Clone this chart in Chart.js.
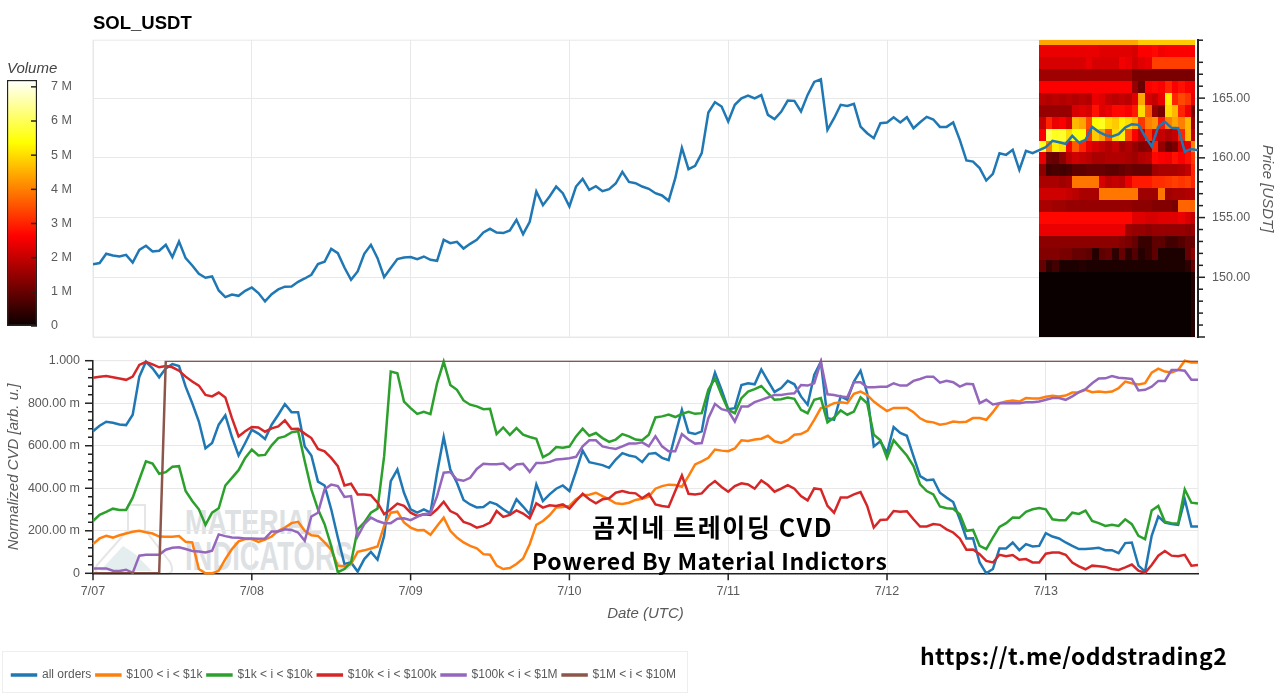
<!DOCTYPE html>
<html lang="en">
<head>
    <meta charset="UTF-8">
    <title>SOL_USDT CVD</title>
    <style>
        html, body {
            margin: 0;
            padding: 0;
            background-color: #fff;
            overflow: hidden;
        }

        canvas, svg, .note, #legendBox {
            position: absolute;
        }

        #colorbarChart { left: 0; top: 55px; }
        #priceChart { left: 0; top: 0; }
        #cvdChart { left: 0; top: 345px; }

        #legendBox {
            left: 2px;
            top: 651px;
            width: 684px;
            height: 40px;
            border: 1px solid #eee;
        }

        .note {
            color: #000;
            white-space: nowrap;
            font-family: "Noto Sans CJK KR", "Noto Sans", sans-serif;
            font-weight: 700;
        }
    </style>
</head>
<body>
    <svg width="1280" height="693">
        <path d="M128 505 L128 530 L97 565 Q92 574 104 574 L165 574 Q176 574 170 562 L145 530 L145 505 Z" fill="none" stroke="#e6e6e6" stroke-width="2"/>
        <path d="M100 571 L123 546 L135 554 L152 571 Z" fill="#e4eeee"/>
        <g fill="#dde1e4" font-family="Liberation Sans" font-weight="bold">
            <text x="185" y="534" font-size="35" textLength="137" lengthAdjust="spacingAndGlyphs">MATERIAL</text>
            <text x="185" y="570" font-size="41" textLength="168" lengthAdjust="spacingAndGlyphs">INDICATORS</text>
        </g>
    </svg>
    <div id="legendBox"></div>
    <canvas id="colorbarChart" width="90" height="285"></canvas>
    <canvas id="priceChart" width="1280" height="345"></canvas>
    <canvas id="cvdChart" width="1280" height="348"></canvas>
    <div class="note" style="left:592px;top:508px;font-size:25px;letter-spacing:1.6px">곰지네 트레이딩 CVD</div>
    <div class="note" style="left:532px;top:543px;font-size:23px;letter-spacing:0.6px">Powered By Material Indictors</div>
    <div class="note" style="left:920px;top:638px;font-size:23px;letter-spacing:0.4px">https://t.me/oddstrading2</div>

    <script src="https://cdn.jsdelivr.net/npm/chart.js@4/dist/chart.umd.js"></script>
    <script>
        // hourly samples, hour 0 = 7/07 00:00 UTC
        const dayLabels = ['7/07', '7/08', '7/09', '7/10', '7/11', '7/12', '7/13'];
        const seriesNames = ['all orders', '$100 < i < $1k', '$1k < i < $10k', '$10k < i < $100k', '$100k < i < $1M', '$1M < i < $10M'];
        const seriesColors = ['#1f77b4', '#ff7f0e', '#2ca02c', '#d62728', '#9467bd', '#8c564b'];

        const priceUsdt = [
            151.10,151.19,151.97,151.83,151.74,151.88,151.24,152.30,152.64,152.16,
            152.22,152.72,151.69,153.00,151.60,150.99,150.29,149.96,150.07,148.90,
            148.34,148.56,148.45,148.87,149.15,148.68,147.98,148.59,148.98,149.21,
            149.23,149.62,149.90,150.21,151.10,151.30,152.38,152.02,150.82,149.79,
            150.49,151.97,152.72,151.60,150.01,150.77,151.52,151.66,151.69,151.52,
            151.74,151.46,151.38,153.14,152.86,152.97,152.41,152.80,153.14,153.75,
            154.06,153.75,153.70,153.92,154.81,153.61,154.64,157.18,156.04,156.76,
            157.60,157.04,155.93,157.60,158.24,157.32,157.63,157.21,157.38,157.85,
            158.83,157.99,157.88,157.60,157.41,157.04,156.85,156.40,158.30,160.84,
            159.05,159.33,160.39,163.79,164.66,164.30,163.04,164.44,164.99,165.22,
            164.97,165.25,163.60,163.24,163.85,164.80,164.77,163.88,165.27,166.36,
            166.58,162.34,163.32,164.44,164.35,164.52,162.62,162.06,161.65,162.90,
            162.96,163.40,162.96,163.40,162.48,162.98,163.43,163.21,162.59,162.59,
            162.96,161.51,159.78,159.69,159.14,158.10,158.66,160.39,160.25,160.67,
            159.00,160.59,160.39,160.64,160.89,161.42,161.31,161.17,161.84,161.28,
            161.51,162.59,162.18,161.90,161.79,161.98,162.54,162.82,162.76,161.79,
            160.95,162.62,163.01,162.51,162.48,160.53,160.73,160.64
        ];

        const cvdAllOrders = [
            .668,.694,.713,.708,.700,.697,.746,.925,.995,.964,
            .922,.964,.984,.975,.878,.800,.714,.588,.613,.699,
            .743,.641,.554,.613,.675,.657,.632,.699,.746,.796,
            .758,.758,.597,.554,.431,.413,.301,.168,.044,.051,
            .008,.067,.101,.064,.176,.434,.488,.379,.301,.285,
            .301,.285,.473,.641,.488,.426,.345,.324,.310,.312,
            .335,.324,.301,.281,.348,.314,.278,.418,.340,.371,
            .398,.413,.387,.480,.577,.523,.516,.509,.496,.535,
            .565,.554,.548,.523,.562,.566,.543,.532,.652,.769,
            .663,.655,.668,.839,.944,.863,.772,.777,.886,.894,
            .889,.959,.905,.853,.871,.905,.889,.832,.793,.933,
            .995,.730,.722,.832,.816,.902,.953,.847,.597,.621,
            .566,.688,.660,.647,.551,.457,.438,.441,.379,.356,
            .335,.254,.164,.165,.051,.000,.020,.117,.117,.145,
            .109,.137,.126,.129,.189,.173,.164,.145,.129,.114,
            .114,.117,.120,.109,.109,.095,.142,.145,.036,.008,
            .176,.267,.239,.232,.228,.348,.220,.220
        ];

        const cvd100To1k = [
            .137,.164,.176,.168,.179,.187,.195,.200,.193,.187,
            .173,.172,.172,.175,.148,.145,.020,.000,.000,.012,
            .067,.114,.150,.161,.161,.148,.158,.173,.200,.215,
            .236,.242,.200,.179,.176,.145,.111,.036,.033,.044,
            .101,.108,.117,.126,.223,.285,.290,.239,.215,.203,
            .204,.181,.223,.262,.200,.168,.145,.129,.117,.090,
            .087,.036,.020,.025,.044,.070,.137,.228,.246,.273,
            .310,.312,.317,.348,.368,.370,.379,.363,.348,.329,
            .326,.332,.345,.351,.360,.398,.410,.417,.415,.407,
            .457,.512,.527,.543,.582,.577,.574,.587,.626,.622,
            .629,.633,.647,.621,.613,.626,.652,.655,.671,.722,
            .777,.785,.800,.805,.800,.844,.855,.839,.808,.785,
            .763,.778,.777,.778,.758,.729,.714,.710,.699,.704,
            .714,.711,.713,.730,.730,.722,.758,.800,.808,.813,
            .808,.824,.822,.822,.830,.835,.832,.836,.850,.852,
            .863,.852,.855,.852,.855,.871,.902,.894,.888,.894,
            .944,.963,.949,.945,.956,1.00,.992,.992
        ];

        const cvd1kTo10k = [
            .246,.275,.289,.304,.298,.298,.356,.441,.527,.516,
            .468,.476,.501,.504,.387,.340,.301,.228,.285,.306,
            .413,.449,.485,.543,.582,.554,.557,.602,.636,.644,
            .663,.668,.527,.395,.301,.231,.129,.005,.020,.051,
            .207,.239,.285,.304,.551,.949,.941,.808,.777,.750,
            .760,.749,.894,.995,.886,.863,.813,.793,.785,.772,
            .774,.655,.686,.651,.683,.652,.641,.633,.546,.563,
            .594,.591,.596,.644,.680,.647,.660,.636,.618,.629,
            .655,.644,.629,.626,.652,.733,.738,.747,.735,.750,
            .760,.750,.753,.863,.917,.839,.769,.753,.824,.855,
            .866,.881,.847,.816,.819,.827,.821,.769,.753,.816,
            .824,.710,.733,.766,.746,.761,.828,.800,.652,.626,
            .543,.626,.590,.554,.504,.418,.387,.371,.314,.306,
            .304,.278,.200,.204,.129,.114,.168,.218,.236,.262,
            .261,.289,.301,.307,.301,.254,.250,.250,.285,.279,
            .295,.246,.236,.223,.228,.223,.254,.231,.176,.161,
            .295,.317,.242,.236,.234,.395,.332,.328
        ];

        const cvd10kTo100k = [
            .920,.925,.928,.922,.916,.910,.925,.980,.995,.983,
            .969,.975,.969,.953,.925,.902,.883,.839,.832,.850,
            .827,.730,.644,.668,.688,.686,.666,.682,.691,.719,
            .679,.680,.657,.636,.585,.574,.543,.504,.413,.421,
            .371,.371,.367,.332,.278,.301,.328,.317,.285,.270,
            .278,.275,.301,.337,.293,.278,.242,.231,.215,.223,
            .239,.293,.265,.275,.296,.281,.259,.329,.309,.320,
            .317,.324,.304,.340,.374,.348,.329,.348,.353,.379,
            .387,.379,.376,.353,.374,.324,.317,.312,.387,.460,
            .374,.371,.376,.410,.434,.406,.384,.410,.423,.418,
            .398,.437,.415,.384,.398,.415,.398,.363,.343,.399,
            .395,.317,.285,.356,.356,.371,.382,.317,.215,.251,
            .253,.293,.290,.292,.254,.220,.220,.232,.228,.207,
            .192,.164,.111,.112,.090,.058,.051,.087,.080,.086,
            .064,.067,.051,.051,.092,.098,.098,.087,.051,.033,
            .019,.036,.033,.030,.020,.016,.028,.041,.012,.002,
            .039,.083,.105,.083,.080,.087,.036,.039
        ];

        const cvd100kTo1M = [
            .023,.023,.023,.012,.011,.017,.002,.083,.087,.087,
            .087,.111,.120,.122,.114,.105,.103,.098,.106,.183,
            .175,.168,.167,.164,.164,.162,.164,.197,.197,.207,
            .204,.192,.153,.267,.285,.395,.417,.410,.359,.363,
            .173,.231,.262,.246,.236,.236,.257,.259,.250,.265,
            .278,.282,.363,.473,.476,.441,.435,.449,.491,.515,
            .513,.513,.516,.488,.512,.515,.477,.519,.519,.524,
            .535,.538,.541,.548,.597,.626,.626,.597,.590,.585,
            .597,.610,.610,.616,.597,.644,.597,.574,.574,.655,
            .629,.610,.613,.730,.797,.772,.764,.714,.785,.785,
            .805,.816,.827,.839,.839,.844,.847,.886,.883,.894,
            .995,.842,.839,.832,.828,.899,.899,.875,.875,.878,
            .878,.894,.883,.883,.905,.914,.925,.925,.897,.905,
            .899,.878,.891,.889,.800,.816,.794,.800,.800,.800,
            .800,.805,.805,.808,.816,.824,.824,.816,.832,.852,
            .866,.894,.916,.917,.928,.920,.917,.914,.860,.863,
            .878,.905,.905,.956,.956,.953,.910,.910
        ];

        const cvd1MTo10M = [
            0,0,0,0,0,0,0,0,0,0,
            0,1,1,1,1,1,1,1,1,1,
            1,1,1,1,1,1,1,1,1,1,
            1,1,1,1,1,1,1,1,1,1,
            1,1,1,1,1,1,1,1,1,1,
            1,1,1,1,1,1,1,1,1,1,
            1,1,1,1,1,1,1,1,1,1,
            1,1,1,1,1,1,1,1,1,1,
            1,1,1,1,1,1,1,1,1,1,
            1,1,1,1,1,1,1,1,1,1,
            1,1,1,1,1,1,1,1,1,1,
            1,1,1,1,1,1,1,1,1,1,
            1,1,1,1,1,1,1,1,1,1,
            1,1,1,1,1,1,1,1,1,1,
            1,1,1,1,1,1,1,1,1,1,
            1,1,1,1,1,1,1,1,1,1,
            1,1,1,1,1,1,1,1
        ];

        // order book heatmap: volume in millions per price bin (rows) and hour (columns)
        const heatHours = [143,144,145,146,147,148,149,150,151,152,153,154,155,156,157,158,159,160,161,162,163,164,165,166,166.6];
        const heatPrices = [169.85,169.45,168.45,167.45,166.45,165.45,164.45,163.45,162.45,161.45,160.45,159.45,158.45,157.45,156.45,155.45,154.45,153.45,152.45,151.45,150.45,145];
        const heatVolume = [
            [4.4,4.4,4.4,4.4,4.4,4.4,4.4,4.4,4.4,4.4,4.4,4.4,4.4,4.4,4.4,4.8,4.8,4.8,4.8,4.8,4.8,4.8,4.8,4.8],
            [2.4,2.4,2.4,2.4,2.4,2.4,2.4,2.4,2.4,2.3,2.3,2.3,2.3,2.3,2.2,2.6,2.6,2.7,2.5,2.6,2.6,2.6,2.6,2.6],
            [2.2,2.2,2.2,2.2,2.2,2.2,2.2,2.4,2.2,2.2,2.2,2.2,2.5,2.4,2.1,2.3,2.4,3.3,3.3,3.3,3.3,3.3,3.3,3.3],
            [1.6,1.6,1.6,1.6,1.6,1.6,1.6,1.6,1.6,1.6,1.6,1.6,1.6,1.6,1.2,1.2,1.2,1.2,1.2,1.2,1.2,1.2,1.2,1.2],
            [2.6,2.6,2.6,2.6,2.6,2.6,2.6,2.6,2.6,2.6,2.6,2.6,2.6,2.6,1.5,1.0,2.6,2.7,2.6,3.0,2.6,2.8,2.6,2.5],
            [1.9,1.8,1.9,1.8,1.9,1.8,1.9,1.8,2.4,2.3,2.0,1.9,2.0,1.9,2.3,4.4,2.2,2.0,2.4,5.2,3.0,3.4,3.2,2.4],
            [1.5,1.5,1.5,1.5,1.5,2.2,2.3,2.2,2.8,2.3,2.4,2.7,2.7,2.6,2.9,5.0,3.6,1.5,1.2,5.0,4.6,3.0,2.5,1.2],
            [2.0,3.0,2.4,2.6,2.2,4.6,4.4,3.4,5.4,5.6,5.0,4.8,5.2,5.0,4.6,3.2,4.0,4.2,2.9,4.0,4.4,4.0,4.6,1.6],
            [2.6,6.0,5.6,5.7,5.0,5.4,5.4,3.2,4.8,4.4,3.4,5.0,5.2,3.4,2.6,2.0,3.2,2.2,2.0,1.8,2.0,3.0,4.6,1.9],
            [5.6,4.0,5.2,5.0,2.6,3.6,3.0,2.4,2.2,2.0,1.8,2.0,1.6,1.8,1.5,1.3,1.4,3.0,1.5,1.0,1.2,2.2,2.4,4.0],
            [2.4,1.1,1.0,1.4,1.9,2.1,2.0,1.9,1.7,1.7,1.8,1.8,1.8,1.7,1.6,1.8,1.9,2.7,2.6,2.5,2.8,2.6,2.8,3.2],
            [1.4,0.6,0.7,0.6,0.7,0.9,0.9,1.0,1.0,1.0,0.9,0.9,1.0,1.1,1.0,1.0,1.0,1.6,1.7,1.7,1.7,1.8,2.0,3.0],
            [1.7,1.7,1.7,1.6,1.7,3.9,3.9,3.9,3.9,2.2,1.9,2.0,1.9,2.4,2.9,2.9,2.9,3.1,3.1,3.2,3.3,3.2,3.3,3.0],
            [2.1,2.1,2.1,2.1,2.0,1.9,1.7,1.7,1.7,3.9,3.9,3.9,3.9,3.9,3.9,1.6,1.6,1.6,3.9,1.6,1.7,1.7,1.8,1.8],
            [1.7,1.7,1.6,1.6,1.5,1.5,1.5,1.5,1.5,1.5,1.5,1.5,1.5,1.5,1.4,1.4,1.4,1.3,1.3,1.3,1.2,3.7,3.7,3.7],
            [2.7,2.7,2.7,2.7,2.7,2.7,2.7,2.7,2.7,2.7,2.7,2.7,2.7,2.7,2.3,2.3,2.2,2.2,2.3,2.3,2.3,2.4,2.2,2.0],
            [2.4,2.4,2.4,2.4,2.4,2.4,2.4,2.4,2.4,2.4,2.4,2.4,2.4,1.6,1.5,1.5,1.4,1.5,1.5,1.5,1.5,1.5,1.4,1.5],
            [1.4,1.4,1.4,1.4,1.4,1.4,1.4,1.4,1.4,1.4,1.4,1.4,1.3,1.2,1.0,0.5,0.5,0.9,0.9,0.6,0.6,0.8,1.0,1.0],
            [1.3,1.3,1.3,1.2,1.2,1.0,1.0,0.9,0.3,0.9,1.0,0.4,1.0,0.4,0.8,0.3,0.5,0.9,0.2,0.2,0.2,0.2,1.0,1.4],
            [1.0,0.4,0.6,0.2,0.2,0.2,0.3,0.2,0.2,0.2,0.2,0.2,0.2,0.2,0.2,0.2,0.2,0.2,0.2,0.2,0.2,0.2,0.4,1.0],
            [0,0,0,0,0,0,0,0,0,0,0,0,0,0,0,0,0,0,0,0,0,0,0,0.3]
        ];

        const volumeMax = 7.2;
        const colorbarStops = [0, 2.63, 5.37, 7.2];
        const labelFont = { family: 'Liberation Sans', size: 12.5 };
        const axisTitleFont = { family: 'Liberation Sans', size: 15, style: 'italic' };
        const labelColor = '#5a5a5a';
        const gridColor = '#e8e8e8';

        // same shape as the "hot" colormap in the colorbar
        function hotColor(volume) {
            const t = Math.min(1, volume / volumeMax);
            const clamp = v => Math.round(255 * Math.max(0, Math.min(1, v)));
            return `rgb(${clamp(0.04 + t / 0.365 * 0.96)},${clamp((t - 0.365) / 0.381)},${clamp((t - 0.746) / 0.254)})`;
        }

        function toPoints(values) {
            return values.map((v, hour) => ({ x: hour, y: v }));
        }

        // fixed axis width, and no extra room for the first/last tick label
        function fixVerticalAxis(width) {
            return scale => {
                scale.width = width;
                scale.paddingTop = 0;
                scale.paddingBottom = 0;
            };
        }

        // bokeh style ticks: long major, short minor, starting on the given edge of the chart area
        function drawTicks(chart, scaleId, isMajor, edgeName, direction, majorLen, minorLen) {
            const scale = chart.scales[scaleId];
            const ctx = chart.ctx;
            const edge = chart.chartArea[edgeName];
            ctx.save();
            ctx.strokeStyle = '#222';
            ctx.lineWidth = 1.5;
            scale.ticks.forEach(tick => {
                const pos = scale.getPixelForValue(tick.value);
                const len = direction * (isMajor(tick.value) ? majorLen : minorLen);
                ctx.beginPath();
                if (scale.isHorizontal()) {
                    ctx.moveTo(pos, edge);
                    ctx.lineTo(pos, edge + len);
                } else {
                    ctx.moveTo(edge, pos);
                    ctx.lineTo(edge + len, pos);
                }
                ctx.stroke();
            });
            ctx.restore();
        }

        const framePlugin = {
            id: 'frame',
            beforeDraw(chart) {
                const a = chart.chartArea;
                chart.ctx.save();
                chart.ctx.strokeStyle = gridColor;
                chart.ctx.strokeRect(a.left, a.top, a.right - a.left, a.bottom - a.top);
                chart.ctx.restore();
            }
        };

        const heatmapPlugin = {
            id: 'heatmap',
            beforeDatasetsDraw(chart) {
                const { x, price } = chart.scales;
                const ctx = chart.ctx;
                heatVolume.forEach((row, r) => {
                    const top = Math.round(price.getPixelForValue(heatPrices[r]));
                    const bottom = Math.round(price.getPixelForValue(heatPrices[r + 1]));
                    row.forEach((volume, c) => {
                        const left = Math.round(x.getPixelForValue(heatHours[c]));
                        const right = Math.round(x.getPixelForValue(heatHours[c + 1]));
                        ctx.fillStyle = hotColor(volume);
                        ctx.fillRect(left, top, right - left, bottom - top);
                    });
                });
            }
        };

        new Chart(document.getElementById('colorbarChart'), {
            type: 'bar',
            data: {
                labels: ['Volume'],
                datasets: [{
                    data: [[0, volumeMax]],
                    barPercentage: 1,
                    categoryPercentage: 1,
                    borderColor: '#222',
                    borderWidth: 1.5,
                    borderSkipped: false,
                    backgroundColor(c) {
                        const a = c.chart.chartArea;
                        if (!a) return '#000';
                        const g = c.chart.ctx.createLinearGradient(0, a.bottom, 0, a.top);
                        colorbarStops.forEach(v => g.addColorStop(v / volumeMax, hotColor(v)));
                        return g;
                    }
                }]
            },
            options: {
                responsive: false,
                animation: false,
                layout: { autoPadding: false, padding: { left: 7, bottom: 14 } },
                plugins: {
                    legend: { display: false },
                    tooltip: { enabled: false },
                    title: {
                        display: true,
                        text: 'Volume',
                        align: 'start',
                        color: '#444',
                        font: { family: 'Liberation Sans', size: 15, style: 'italic', weight: 'normal' },
                        padding: { top: 5, bottom: 2 }
                    }
                },
                scales: {
                    x: { display: false },
                    y: {
                        position: 'right',
                        min: 0,
                        max: volumeMax,
                        afterFit: fixVerticalAxis(53),
                        border: { display: false },
                        grid: { display: false, drawTicks: false },
                        ticks: {
                            stepSize: 1,
                            includeBounds: false,
                            padding: 14,
                            crossAlign: 'near',
                            color: labelColor,
                            font: labelFont,
                            callback: v => (v === 0 ? '0' : v + ' M')
                        }
                    }
                }
            },
            plugins: [{
                id: 'colorbarTicks',
                afterDraw(chart) {
                    drawTicks(chart, 'y', () => true, 'right', -1, 6, 6);
                }
            }]
        });

        new Chart(document.getElementById('priceChart'), {
            type: 'line',
            data: {
                datasets: [{
                    label: 'price',
                    data: toPoints(priceUsdt),
                    xAxisID: 'x',
                    yAxisID: 'price',
                    borderColor: seriesColors[0],
                    borderWidth: 2.5,
                    pointRadius: 0,
                    tension: 0
                }]
            },
            options: {
                responsive: false,
                animation: false,
                layout: { autoPadding: false, padding: { left: 93, bottom: 8 } },
                plugins: {
                    legend: { display: false },
                    tooltip: { enabled: false },
                    title: {
                        display: true,
                        text: 'SOL_USDT',
                        align: 'start',
                        fullSize: false,
                        color: '#000',
                        font: { family: 'Liberation Sans', size: 18.5, weight: 'bold' },
                        padding: { top: 13, bottom: 5 }
                    }
                },
                scales: {
                    x: {
                        type: 'linear',
                        min: 0,
                        max: 167,
                        afterFit(scale) { scale.height = 0; },
                        border: { display: false },
                        grid: { color: gridColor, drawTicks: false },
                        ticks: { display: false, stepSize: 24 }
                    },
                    price: {
                        position: 'right',
                        min: 145,
                        max: 169.85,
                        afterFit: fixVerticalAxis(82),
                        border: { color: '#222', width: 2 },
                        title: {
                            display: true,
                            text: 'Price [USDT]',
                            color: labelColor,
                            font: axisTitleFont,
                            padding: { top: 3.6, bottom: 0 }
                        },
                        grid: {
                            drawTicks: false,
                            color: c => (c.tick.value % 5 === 0 ? gridColor : 'transparent')
                        },
                        ticks: {
                            stepSize: 1,
                            padding: 14,
                            autoSkip: false,
                            color: labelColor,
                            font: labelFont,
                            callback: v => (v % 5 === 0 && v > 145 ? v.toFixed(2) : '')
                        }
                    }
                }
            },
            plugins: [framePlugin, heatmapPlugin, {
                id: 'priceTicks',
                afterDraw(chart) {
                    drawTicks(chart, 'price', v => v % 5 === 0, 'right', 1, 7, 5);
                }
            }]
        });

        const isCvdMajor = v => Math.abs(v / 0.2 - Math.round(v / 0.2)) < 1e-6;
        const cvdSeries = [cvdAllOrders, cvd100To1k, cvd1kTo10k, cvd10kTo100k, cvd100kTo1M, cvd1MTo10M];

        new Chart(document.getElementById('cvdChart'), {
            type: 'line',
            data: {
                datasets: cvdSeries.map((values, i) => ({
                    label: seriesNames[i],
                    data: toPoints(values),
                    borderColor: seriesColors[i],
                    backgroundColor: seriesColors[i],
                    borderWidth: 2.5,
                    pointRadius: 0,
                    tension: 0,
                    // the saturated $1M line hugs the top edge, so it stays clipped thin
                    clip: values === cvd1MTo10M ? 0 : false,
                    order: cvdSeries.length - i
                }))
            },
            options: {
                responsive: false,
                animation: false,
                layout: { autoPadding: false, padding: { left: 7, right: 82, top: 15.7, bottom: 2 } },
                plugins: {
                    tooltip: { enabled: false },
                    legend: {
                        position: 'bottom',
                        align: 'start',
                        labels: {
                            boxWidth: 24,
                            boxHeight: 1,
                            padding: 5,
                            color: labelColor,
                            font: { family: 'Liberation Sans', size: 12 },
                            sort: (a, b) => a.datasetIndex - b.datasetIndex
                        }
                    }
                },
                scales: {
                    x: {
                        type: 'linear',
                        min: 0,
                        max: 167,
                        afterFit(scale) { scale.height = 90.7; },
                        border: { color: '#222', width: 1.5 },
                        title: {
                            display: true,
                            text: 'Date (UTC)',
                            color: labelColor,
                            font: axisTitleFont,
                            padding: { top: 0, bottom: 41 }
                        },
                        grid: { color: gridColor, drawTicks: false },
                        ticks: {
                            stepSize: 24,
                            padding: 11,
                            maxRotation: 0,
                            color: labelColor,
                            font: labelFont,
                            callback: v => dayLabels[v / 24]
                        }
                    },
                    y: {
                        min: 0,
                        max: 1,
                        afterFit: fixVerticalAxis(86),
                        border: { color: '#222', width: 1.5 },
                        title: {
                            display: true,
                            text: 'Normalized CVD [arb. u.]',
                            color: labelColor,
                            font: axisTitleFont,
                            padding: { top: -2, bottom: 0 }
                        },
                        grid: {
                            drawTicks: false,
                            color: c => (isCvdMajor(c.tick.value) ? gridColor : 'transparent')
                        },
                        ticks: {
                            stepSize: 0.04,
                            padding: 13,
                            autoSkip: false,
                            color: labelColor,
                            font: labelFont,
                            callback(v) {
                                if (!isCvdMajor(v)) return '';
                                if (v === 0) return '0';
                                if (v === 1) return '1.000';
                                return (v * 1000).toFixed(2) + ' m';
                            }
                        }
                    }
                }
            },
            plugins: [framePlugin, {
                id: 'cvdTicks',
                afterDraw(chart) {
                    drawTicks(chart, 'y', isCvdMajor, 'left', -1, 8, 5);
                    drawTicks(chart, 'x', () => true, 'bottom', 1, 7, 7);
                }
            }]
        });
    </script>
</body>
</html>
